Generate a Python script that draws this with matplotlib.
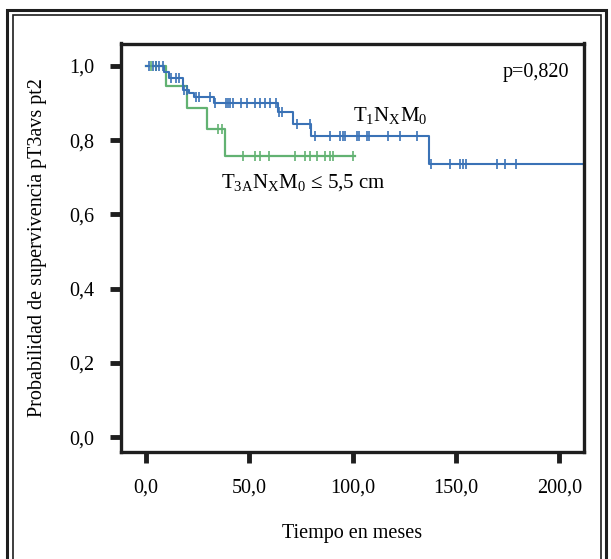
import matplotlib
matplotlib.use("Agg")
import matplotlib.pyplot as plt
from matplotlib.patches import Rectangle

plt.rcParams['font.family'] = ['Liberation Serif', 'DejaVu Serif']
plt.rcParams['mathtext.fontset'] = 'custom'
plt.rcParams['mathtext.rm'] = 'Liberation Serif'
plt.rcParams['mathtext.it'] = 'Liberation Serif'

# Kaplan-Meier step data: event times and survival after each step
blue_times = [0, 8.7, 11, 17.8, 21, 23, 33, 64, 71, 80, 137, 212]
blue_surv = [1.0, 0.982, 0.968, 0.935, 0.927, 0.916, 0.90, 0.876, 0.842, 0.810, 0.735, 0.735]
blue_censor = [1.6, 3.2, 4.8, 6.4, 8.0, 12, 14.5, 16, 18.5, 20, 24, 25.5, 31, 33.5,
               38.5, 39.5, 40.5, 42, 46, 49, 53, 55.4, 57.8, 60, 62.7, 64.2, 66,
               73, 79.5, 82, 89, 94, 95.5, 96.4, 102, 103, 107, 108, 117, 123, 131,
               138, 147, 152, 153.5, 155, 170, 174, 179]

green_times = [0, 9.6, 20, 29.5, 38, 101]
green_surv = [1.0, 0.945, 0.886, 0.830, 0.757, 0.757]
green_censor = [2.5, 5, 35, 37, 47, 53, 55.4, 59.4, 72, 77, 79.5, 82.7, 86.7, 89, 90.7, 100.4]

xticks = [0, 50, 100, 150, 200]
xtick_labels = ['0,0', '50,0', '100,0', '150,0', '200,0']
yticks = [0.0, 0.2, 0.4, 0.6, 0.8, 1.0]
ytick_labels = ['0,0', '0,2', '0,4', '0,6', '0,8', '1,0']

blue = '#3a72b6'
green = '#62b272'
dark = '#1e1e1e'
FS = 14.5

def surv_at(times, surv, t):
    val = surv[0]
    for tt, s in zip(times, surv):
        if tt <= t:
            val = s
    return val

fig = plt.figure(figsize=(6.11, 5.59), dpi=100)
W, H = 611, 559

# double frame
fig.patches.append(Rectangle((7 / W, -0.05), (606 - 7) / W, 1 - 10 / H + 0.05,
                             transform=fig.transFigure, fill=False, lw=2.2, ec=dark))
fig.patches.append(Rectangle((12.5 / W, -0.05), (601 - 12.5) / W, 1 - 15 / H + 0.05,
                             transform=fig.transFigure, fill=False, lw=1.2, ec=dark))

ax = fig.add_axes([121 / W, 1 - 452 / H, (584 - 121) / W, (452 - 43.5) / H])
ax.step(green_times, green_surv, where='post', color=green, lw=1.6)
ax.step(blue_times, blue_surv, where='post', color=blue, lw=1.5)

for t in green_censor:
    ax.plot([t], [surv_at(green_times, green_surv, t)], marker='|', ms=7, mew=1.2, color=green)
for t in blue_censor:
    ax.plot([t], [surv_at(blue_times, blue_surv, t)], marker='|', ms=7, mew=1.2, color=blue)

ax.set_xlim(-12.1, 212)
ax.set_ylim(-0.040, 1.060)
ax.set_xticks(xticks)
ax.set_xticklabels(xtick_labels)
ax.set_yticks(yticks)
ax.set_yticklabels(ytick_labels)
ax.tick_params(direction='out', length=8, width=3.5, labelsize=FS, color=dark, pad=11)
ax.tick_params(axis='y', pad=11)
for s in ax.spines.values():
    s.set_linewidth(2.4)
    s.set_color(dark)

ax.set_xlabel('Tiempo en meses', fontsize=FS, labelpad=19)
ax.set_ylabel('Probabilidad de supervivencia pT3avs pt2', fontsize=FS, labelpad=16)

ax.text(0.968, 0.952, 'p=0,820', transform=ax.transAxes, ha='right', va='top', fontsize=FS)
ax.text(100.3, 0.851, r'T$_{\rm 1}$N$_{\rm X}$M$_{\rm 0}$', ha='left', va='baseline', fontsize=15)
ax.text(36.4, 0.673, r'T$_{\rm 3A}$N$_{\rm X}$M$_{\rm 0}$ ≤ 5,5 cm', ha='left', va='baseline', fontsize=15)

fig.savefig('out.png', dpi=100)
